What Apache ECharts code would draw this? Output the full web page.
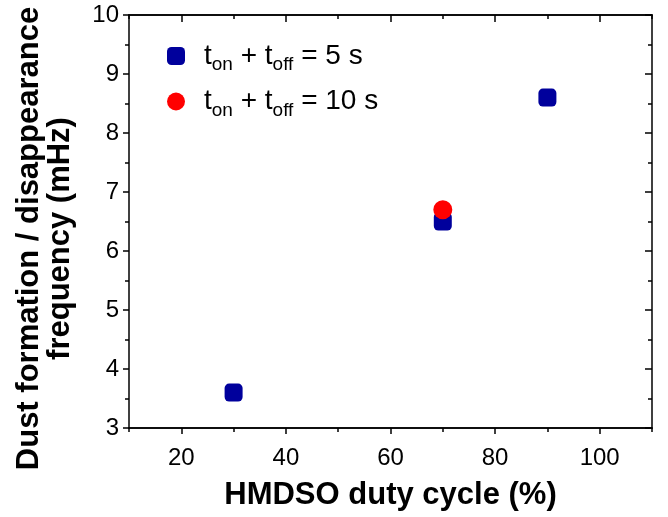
<!DOCTYPE html>
<html>
<head>
<meta charset="utf-8">
<script src="https://cdn.jsdelivr.net/npm/echarts@6/dist/echarts.min.js"></script>
<style>
  html, body { margin: 0; padding: 0; background: #fff; }
  #demo { width: 668px; height: 517px; }
</style>
</head>
<body>
<div id="demo"></div>
<script>
// data
var dutyCycle5s = [30, 70, 90];
var freq5s = [3.6, 6.5, 8.6];
var dutyCycle10s = [70];
var freq10s = [6.7];
var xTicks = [20, 40, 60, 80, 100];
var xMinorTicks = [10, 30, 50, 70, 90, 110];
var yTicks = [3, 4, 5, 6, 7, 8, 9, 10];

var font = 'Liberation Sans, Arial, sans-serif';

function pairs(xs, ys) {
    return xs.map(function (x, i) { return [x, ys[i]]; });
}

var rich = {
    a: { fontFamily: font, fontSize: 28, color: '#000' },
    s: { fontFamily: font, fontSize: 19, color: '#000', padding: [18, 0, 0, 0] }
};

var lineStyle = { color: '#000', width: 1.5 };

// x axis helper: same scale for every copy, only ticks differ
function xAx(pos, ticks, len, inside, extra) {
    var ax = {
        type: 'value', min: 10, max: 110, interval: 10, position: pos,
        axisLine: { show: true, lineStyle: lineStyle },
        axisTick: { show: true, inside: inside, length: len, customValues: ticks, lineStyle: lineStyle },
        splitLine: { show: false },
        axisLabel: { show: false }
    };
    return Object.assign(ax, extra || {});
}

var option = {
    animation: false,
    backgroundColor: '#fff',
    grid: { left: 129, right: 16, top: 15, bottom: 89, outerBoundsMode: 'none', containLabel: false },
    legend: {
        orient: 'vertical',
        left: 162,
        top: 37,
        itemWidth: 18,
        itemHeight: 18,
        itemGap: 13,
        data: [
            { name: 'five', icon: 'roundRect' },
            { name: 'ten', icon: 'circle' }
        ],
        formatter: function (name) {
            return name === 'five'
                ? '{a|t}{s|on}{a| + t}{s|off}{a| = 5 s}'
                : '{a|t}{s|on}{a| + t}{s|off}{a| = 10 s}';
        },
        textStyle: { rich: rich, padding: [0, 0, 0, 14] }
    },
    xAxis: [
        xAx('bottom', xTicks, 6, false, {
            axisLabel: {
                show: true, customValues: xTicks,
                fontFamily: font, fontSize: 24, color: '#000', margin: 18
            },
            name: 'HMDSO duty cycle (%)',
            nameLocation: 'middle',
            nameGap: 52,
            nameTextStyle: { fontFamily: font, fontSize: 31, fontWeight: 'bold', color: '#000' }
        }),
        xAx('bottom', xMinorTicks, 4, false),
        xAx('top', xTicks, 7, true),
        xAx('top', xMinorTicks, 4, true)
    ],
    yAxis: [
        {
            type: 'value', min: 3, max: 10, interval: 1,
            axisLine: { show: true, lineStyle: lineStyle },
            axisTick: { show: true, length: 6, lineStyle: lineStyle },
            minorTick: { show: true, splitNumber: 2, length: 4, lineStyle: lineStyle },
            splitLine: { show: false },
            axisLabel: {
                fontFamily: font, fontSize: 24, color: '#000', margin: 10,
                formatter: function (v) { return yTicks.indexOf(v) >= 0 ? v : ''; }
            },
            name: 'Dust formation / disappearance\nfrequency (mHz)',
            nameLocation: 'middle',
            nameGap: 53,
            nameTextStyle: {
                fontFamily: font, fontSize: 31, fontWeight: 'bold', color: '#000',
                lineHeight: 31, padding: [0, 34, 0, 0]
            }
        },
        {
            type: 'value', min: 3, max: 10, interval: 1, position: 'right',
            axisLine: { show: true, lineStyle: lineStyle },
            axisTick: { show: true, inside: true, length: 7, lineStyle: lineStyle },
            minorTick: { show: true, splitNumber: 2, length: 4, lineStyle: lineStyle },
            splitLine: { show: false },
            axisLabel: { show: false }
        }
    ],
    series: [
        {
            name: 'five',
            type: 'scatter',
            symbol: 'roundRect',
            symbolSize: 18,
            itemStyle: { color: '#00009c', opacity: 1 },
            data: pairs(dutyCycle5s, freq5s)
        },
        {
            name: 'ten',
            type: 'scatter',
            symbol: 'circle',
            symbolSize: 19,
            itemStyle: { color: '#ff0000', opacity: 1 },
            data: pairs(dutyCycle10s, freq10s)
        }
    ]
};

var myChart = echarts.init(document.getElementById('demo'));
myChart.setOption(option);
</script>
</body>
</html>
